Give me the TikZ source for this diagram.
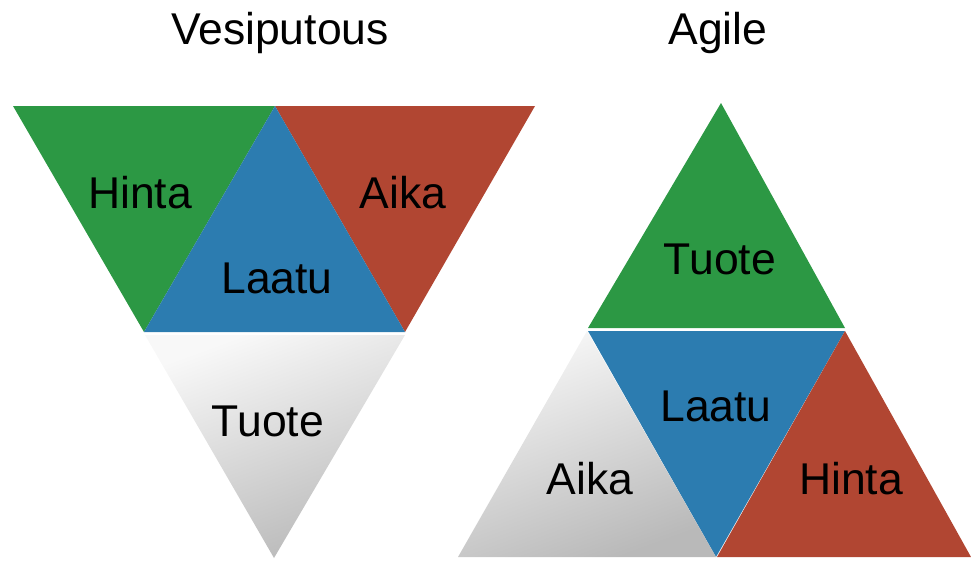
\documentclass[tikz,border=0pt]{standalone}
\usepackage{fontspec}
\setmainfont{Liberation Sans}
\begin{document}
\begin{tikzpicture}[x=1pt,y=-1pt,
  lbl/.style={font=\fontsize{44.5}{44.5}\selectfont, text=black, inner sep=0pt},
  ttl/.style={font=\fontsize{44.5}{44.5}\selectfont, text=black, inner sep=0pt},
  gshade/.style={shading=axis, top color=grayL, bottom color=grayD, shading angle=20}]
\definecolor{tgreen}{RGB}{44,152,68}
\definecolor{tblue}{RGB}{44,124,176}
\definecolor{tred}{RGB}{177,70,50}
\definecolor{grayL}{RGB}{248,248,248}
\definecolor{grayD}{RGB}{185,185,185}
\useasboundingbox (0,0) rectangle (971,560);
% ---- Vesiputous ----
\fill[tgreen] (13,106) -- (275,106) -- (144,332) -- cycle;
\fill[tred] (275,106) -- (535,106) -- (405,332) -- cycle;
\fill[tblue] (275,106) -- (405,332) -- (144,332) -- cycle;
\shade[gshade] (145,335) -- (405,335) -- (274,558) -- cycle;
% ---- Agile ----
\fill[tgreen] (721,103) -- (845,328) -- (588,328) -- cycle;
\fill[tblue] (588,331) -- (845,331) -- (716,557) -- cycle;
\shade[gshade] (587,331) -- (716,557) -- (458,557) -- cycle;
\fill[tred] (845,331) -- (971,557) -- (717,557) -- cycle;
% ---- titles ----
\node[ttl] (t1) at (280,33) {Vesiputous};
\node[ttl] (t2) at (718,33) {Agile};
% ---- labels ----
\node[lbl] (l1) at (140,193) {Hinta};
\node[lbl] (l2) at (403,193) {Aika};
\node[lbl] (l3) at (277,278) {Laatu};
\node[lbl] (l4) at (268,421) {Tuote};
\node[lbl] (r1) at (720,259) {Tuote};
\node[lbl] (r2) at (716,406) {Laatu};
\node[lbl] (r3) at (590,479) {Aika};
\node[lbl] (r4) at (851,479) {Hinta};
\end{tikzpicture}
\end{document}
